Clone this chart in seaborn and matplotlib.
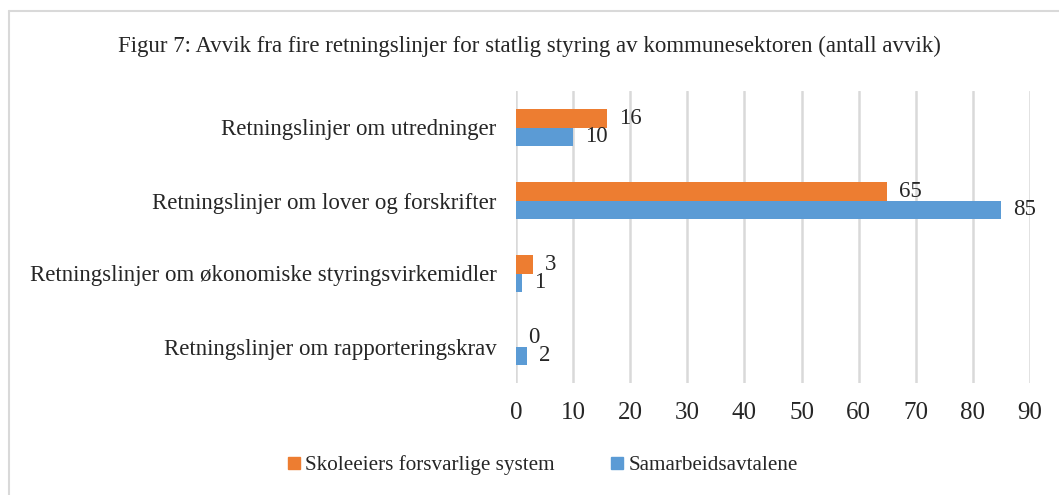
import matplotlib
matplotlib.use("Agg")
import matplotlib.pyplot as plt
import seaborn as sns
import pandas as pd
from matplotlib.lines import Line2D

categories = [
    "Retningslinjer om utredninger",
    "Retningslinjer om lover og forskrifter",
    "Retningslinjer om økonomiske styringsvirkemidler",
    "Retningslinjer om rapporteringskrav",
]
series_names = ["Skoleeiers forsvarlige system", "Samarbeidsavtalene"]
skoleeiers = [16, 65, 3, 0]
samarbeid = [10, 85, 1, 2]
xticks = [0, 10, 20, 30, 40, 50, 60, 70, 80, 90]
title = "Figur 7: Avvik fra fire retningslinjer for statlig styring av kommunesektoren (antall avvik)"
colors = ["#ED7D31", "#5B9BD5"]

rows = []
for c, v in zip(categories, skoleeiers):
    rows.append({"cat": c, "serie": series_names[0], "val": v})
for c, v in zip(categories, samarbeid):
    rows.append({"cat": c, "serie": series_names[1], "val": v})
df = pd.DataFrame(rows)

sns.set_style("white")
plt.rcParams["font.family"] = ["Liberation Serif", "DejaVu Serif"]

fig = plt.figure(figsize=(10.59, 4.95), dpi=100)
ax = fig.add_axes([516/1059, 1-383/495, (1030-516)/1059, (383-91)/495])

sns.barplot(data=df, y="cat", x="val", hue="serie", order=categories,
            hue_order=series_names, palette=colors, orient="h", width=0.5,
            ax=ax, legend=False, saturation=1, edgecolor="none")

ax.set_xlim(0, 90)
ax.set_xticks(xticks)
ax.set_xticklabels([str(t) for t in xticks], fontsize=18, color="#262626")
ax.tick_params(axis="x", length=0, pad=14)
ax.tick_params(axis="y", length=0, pad=14, labelsize=16.5, labelcolor="#262626")
ax.set_xlabel("")
ax.set_ylabel("")
ax.grid(axis="x", color="#D9D9D9", linewidth=1.8)
ax.set_axisbelow(True)
for s in ax.spines.values():
    s.set_visible(False)

# data labels
for cont, vals in zip(ax.containers, [skoleeiers, samarbeid]):
    for bar, v in zip(cont, vals):
        y = bar.get_y() + bar.get_height() / 2
        ax.annotate(str(v), (bar.get_width(), y), xytext=(12, 0),
                    textcoords="offset pixels", ha="left", va="center",
                    fontsize=16.5, color="#262626")

fig.text(0.5, 1-46/495, title, ha="center", va="center", fontsize=16.5, color="#262626")

handles = [Line2D([0], [0], marker="s", linestyle="none", markersize=8,
                  markerfacecolor=col, markeredgecolor=col) for col in colors]
fig.legend(handles, series_names, loc="center", bbox_to_anchor=(0.512, 1-465/495),
           ncol=2, frameon=False, fontsize=15.2, handlelength=0.7, handletextpad=0.2,
           columnspacing=2.6, labelcolor="#262626")

# figure border (left and top)
fig.add_artist(Line2D([9/1059, 9/1059], [0, 1-11/495], transform=fig.transFigure,
                      color="#D9D9D9", linewidth=1.5))
fig.add_artist(Line2D([9/1059, 1], [1-11/495, 1-11/495], transform=fig.transFigure,
                      color="#D9D9D9", linewidth=1.5))

fig.savefig("out.png", dpi=100)
